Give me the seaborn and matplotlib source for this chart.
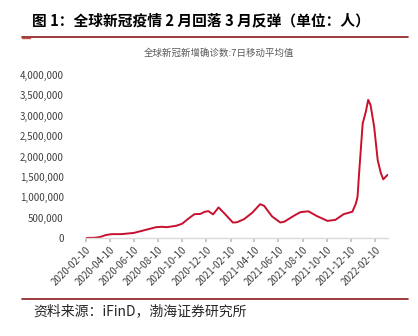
import matplotlib
matplotlib.use("Agg")
import matplotlib.pyplot as plt
import matplotlib.ticker as mticker
import seaborn as sns
import pandas as pd

# ---- data ----
dates = ["2020-02-10", "2020-03-01", "2020-03-15", "2020-04-01", "2020-04-15",
         "2020-05-10", "2020-06-10", "2020-07-10", "2020-08-05", "2020-08-20",
         "2020-09-01", "2020-09-25", "2020-10-10", "2020-10-25", "2020-11-10",
         "2020-11-25", "2020-12-05", "2020-12-15", "2020-12-27", "2021-01-10",
         "2021-01-25", "2021-02-15", "2021-02-25", "2021-03-15", "2021-04-05",
         "2021-04-25", "2021-05-05", "2021-05-25", "2021-06-15", "2021-06-25",
         "2021-07-20", "2021-08-05", "2021-08-25", "2021-09-15", "2021-10-12",
         "2021-11-01", "2021-11-22", "2021-12-14", "2021-12-23", "2021-12-27",
         "2021-12-31", "2022-01-09", "2022-01-17", "2022-01-23", "2022-01-29",
         "2022-02-07", "2022-02-16", "2022-02-24", "2022-03-02", "2022-03-13"]
values = [2500, 5000, 20000, 75000, 95000,
          95000, 125000, 200000, 265000, 275000,
          265000, 300000, 350000, 470000, 585000,
          590000, 640000, 660000, 580000, 750000,
          600000, 380000, 385000, 460000, 620000,
          830000, 790000, 530000, 380000, 400000,
          550000, 635000, 655000, 540000, 420000,
          445000, 585000, 645000, 850000, 1010000,
          1590000, 2810000, 3100000, 3390000, 3260000,
          2730000, 1910000, 1590000, 1440000, 1550000]
tick_labels = ["2020-02-10", "2020-04-10", "2020-06-10", "2020-08-10", "2020-10-10",
               "2020-12-10", "2021-02-10", "2021-04-10", "2021-06-10", "2021-08-10",
               "2021-10-10", "2021-12-10", "2022-02-10"]
y_ticks = [0, 500000, 1000000, 1500000, 2000000, 2500000, 3000000, 3500000, 4000000]

title = "图 1：全球新冠疫情 2 月回落 3 月反弹（单位：人）"
subtitle = "全球新冠新增确诊数:7日移动平均值"
source = "资料来源：iFinD，渤海证券研究所"

df = pd.DataFrame({"date": pd.to_datetime(dates), "value": values})

sns.set_theme(style="white")
plt.rcParams["font.family"] = ["Noto Sans CJK SC", "DejaVu Sans"]

fig = plt.figure(figsize=(4.18, 3.36), dpi=100)
ax = fig.add_axes([86 / 418, 98 / 336, (388 - 86) / 418, (261 - 98) / 336])

sns.lineplot(data=df, x="date", y="value", ax=ax, color="#C8102E", linewidth=1.4)

ax.set_xlim(pd.Timestamp("2020-02-10"), pd.Timestamp("2022-03-14"))
ax.set_ylim(0, 4000000)
ax.set_yticks(y_ticks)
ax.yaxis.set_major_formatter(mticker.FuncFormatter(lambda v, p: f"{int(v):,}"))
ax.set_xticks(pd.to_datetime(tick_labels))
ax.set_xticklabels(tick_labels, rotation=45, ha="right", rotation_mode="anchor")
ax.set_xlabel("")
ax.set_ylabel("")

for s in ["top", "right", "left"]:
    ax.spines[s].set_visible(False)
ax.spines["bottom"].set_color("#D9D9D9")
ax.spines["bottom"].set_linewidth(1.0)
ax.tick_params(axis="x", which="major", bottom=True, length=3, color="#BFBFBF",
               labelsize=7, labelcolor="#404040", pad=2)
ax.tick_params(axis="y", left=False, labelsize=7, labelcolor="#404040", pad=10)
ax.grid(False)

# headings and source
fig.text(32 / 418, 1 - 20 / 336, title, fontsize=10.6, fontweight="bold",
         color="black", ha="left", va="center")
fig.add_artist(plt.Line2D([22 / 418, 408 / 418], [1 - 36.5 / 336] * 2,
                          color="#8B1A1A", linewidth=1.2))
fig.add_artist(plt.Line2D([22 / 418, 30 / 418], [1 - 38.3 / 336] * 2,
                          color="#C0504D", linewidth=1.0))
fig.text(219 / 418, 1 - 53 / 336, subtitle, fontsize=6.8, color="#595959",
         ha="center", va="center")
fig.add_artist(plt.Line2D([22 / 418, 408 / 418], [1 - 299 / 336] * 2,
                          color="#8B1A1A", linewidth=1.2))
fig.text(33 / 418, 1 - 311.5 / 336, source, fontsize=10, style="italic",
         color="#262626", ha="left", va="center")

fig.savefig("out.png", dpi=100)
